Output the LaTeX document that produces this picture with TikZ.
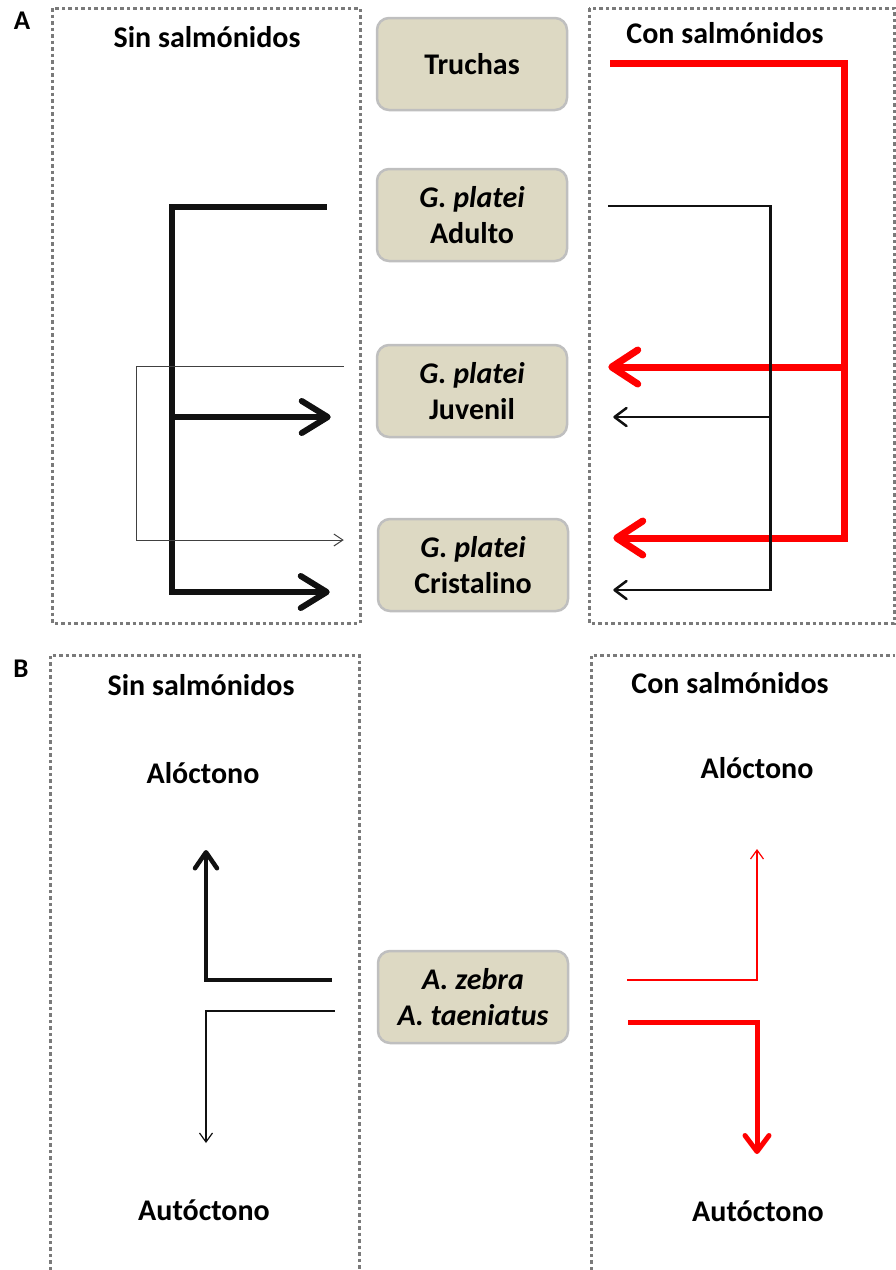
\documentclass[tikz,border=0pt]{standalone}
\usepackage{xcolor}
\usepackage{tikz}
\usepackage{fontspec}
\setmainfont{Carlito}
\usetikzlibrary{arrows.meta}
\definecolor{caqui}{HTML}{DDD9C3}
\definecolor{borde}{HTML}{BFBFBF}
\definecolor{punteado}{HTML}{7A7A7A}
\definecolor{negro}{HTML}{111111}
\definecolor{gris}{HTML}{404040}

\begin{document}
\begin{tikzpicture}[x=1pt, y=-1pt,
    caja/.style={draw=borde, line width=2.5pt, fill=caqui, rounded corners=12pt, minimum width=190pt, minimum height=92pt, align=center, font=\fontsize{30}{36}\selectfont\bfseries},
    rotulo/.style={anchor=base, inner sep=0pt, font=\fontsize{30}{36}\selectfont\bfseries},
    marco/.style={punteado, line width=3pt, dash pattern=on 3.5pt off 3pt},
    negragruesa/.style={negro, line width=6pt, -{Straight Barb[round, length=26pt, width=32pt, line width=6pt]}},
    rojagruesa/.style={red, line width=7pt, -{Straight Barb[round, length=26pt, width=34pt, line width=7pt]}},
    negramedia/.style={negro, line width=2.5pt, -{Straight Barb[round, length=12pt, width=18pt, line width=2.5pt]}},
    fina/.style={gris, line width=1pt, -{Straight Barb[length=9pt, width=12pt, line width=1pt]}},
    negraB/.style={negro, line width=4.5pt, -{Straight Barb[round, length=16pt, width=22pt, line width=4.5pt]}},
    rojaB/.style={red, line width=5pt, -{Straight Barb[round, length=16pt, width=24pt, line width=5pt]}},
    rojafina/.style={red, line width=1.2pt, -{Straight Barb[length=9pt, width=13pt, line width=1.2pt]}},
    negrafina/.style={negro, line width=1.2pt, -{Straight Barb[length=9pt, width=13pt, line width=1.2pt]}}
  ]
    \useasboundingbox (0,0) rectangle (895,1270);

    \draw[marco] (52,8) rectangle (360,623);
    \draw[marco] (589,8) rectangle (894,623);
    \draw[marco] (50,1270) |- (359,655) -- (359,1270);
    \draw[marco] (591,1270) |- (895,655);

    \node[rotulo, font=\fontsize{27}{30}\selectfont\bfseries] (etqA) at (22,29) {A};
    \node[rotulo, font=\fontsize{27}{30}\selectfont\bfseries] (etqB) at (21,677) {B};
    \node[rotulo] (sinA) at (207,47) {Sin salmónidos};
    \node[rotulo] (conA) at (725,43) {Con salmónidos};
    \node[rotulo] (sinB) at (201,695) {Sin salmónidos};
    \node[rotulo] (conB) at (730,693) {Con salmónidos};
    \node[rotulo] (alocSin) at (203,783) {Alóctono};
    \node[rotulo] (alocCon) at (757,778) {Alóctono};
    \node[rotulo] (autoSin) at (204,1220) {Autóctono};
    \node[rotulo] (autoCon) at (758,1221) {Autóctono};

    \node[caja] (truchas) at (472,64) {Truchas};
    \node[caja] (adulto) at (472,215) {\textit{G. platei}\\Adulto};
    \node[caja] (juvenil) at (472,391) {\textit{G. platei}\\Juvenil};
    \node[caja] (cristalino) at (473,565) {\textit{G. platei}\\Cristalino};
    \node[caja] (astyanax) at (473,997) {\textit{A. zebra}\\\textit{A. taeniatus}};

    \draw[negragruesa] ([shift={(-49,-8)}]adulto.west) -- ++(-155,0) |- ([shift={(-45,26)}]juvenil.west);
    \draw[negragruesa] ([shift={(-49,-8)}]adulto.west) -- ++(-155,0) |- ([shift={(-47,27)}]cristalino.west);
    \draw[fina] ([shift={(-32,-25)}]juvenil.west) -- ++(-207,0) |- ([shift={(-33,-25)}]cristalino.west);

    \draw[rojagruesa] ([shift={(42,-1)}]truchas.east) -- ++(234,0) |- ([shift={(40,-24)}]juvenil.east);
    \draw[rojagruesa] ([shift={(42,-1)}]truchas.east) -- ++(234,0) |- ([shift={(44,-27)}]cristalino.east);
    \draw[negramedia] ([shift={(40,-9)}]adulto.east) -- ++(162,0) |- ([shift={(45,26)}]juvenil.east);
    \draw[negramedia] ([shift={(40,-9)}]adulto.east) -- ++(162,0) |- ([shift={(44,25)}]cristalino.east);

    \draw[negraB] ([shift={(-45,-17)}]astyanax.west) -| ([shift={(3,67)}]alocSin.base);
    \draw[negrafina] ([shift={(-42,14)}]astyanax.west) -| ([shift={(2,-77)}]autoSin.base);
    \draw[rojafina] ([shift={(58,-17)}]astyanax.east) -| ([shift={(0,71)}]alocCon.base);
    \draw[rojaB] ([shift={(59,25)}]astyanax.east) -| ([shift={(-1,-67)}]autoCon.base);
  \end{tikzpicture}
\end{document}
